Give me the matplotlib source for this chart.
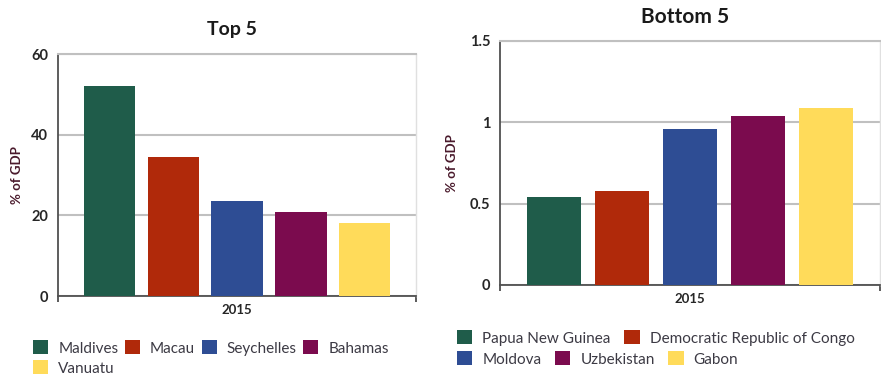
import matplotlib
matplotlib.use("Agg")
import matplotlib.pyplot as plt
from matplotlib.patches import Patch

plt.rcParams['font.family'] = ['Lato', 'DejaVu Sans']

# data
year_label = "2015"
top_names = ["Maldives", "Macau", "Seychelles", "Bahamas", "Vanuatu"]
top_values = [52.1, 34.5, 23.6, 20.8, 18.0]
top_ticks = [0, 20, 40, 60]
top_ticklabels = ["0", "20", "40", "60"]

bottom_names = ["Papua New Guinea", "Democratic Republic of Congo", "Moldova", "Uzbekistan", "Gabon"]
bottom_values = [0.54, 0.58, 0.96, 1.04, 1.09]
bottom_ticks = [0, 0.5, 1.0, 1.5]
bottom_ticklabels = ["0", "0.5", "1", "1.5"]

colors = ["#1f5c4a", "#b0290a", "#2e4d94", "#7b0b4e", "#ffdb5a"]
grid_col = "#c0c0c0"
label_col = "#4a1a2c"

fig = plt.figure(figsize=(8.81, 3.76), dpi=100)


def draw_panel(rect, title, names, values, ticks, ticklabels, title_y, title_size):
    ax = fig.add_axes(rect)
    offsets = [i - (len(values) - 1) / 2 for i in range(len(values))]
    ax.bar(offsets, values, width=0.8, color=colors, zorder=3)
    ax.set_xlim(-2.8, 2.8)
    ax.set_ylim(ticks[0], ticks[-1])
    ax.set_yticks(ticks)
    ax.set_yticklabels(ticklabels, fontweight='bold', fontsize=10.5, color='#262626')
    ax.tick_params(axis='y', length=0, pad=7)
    ax.set_xticks([0])
    ax.set_xticklabels([year_label], fontweight='bold', fontsize=9.5, color='#262626')
    ax.tick_params(axis='x', which='major', length=0, pad=6)
    ax.set_xticks([-2.8, 2.8], minor=True)
    ax.tick_params(axis='x', which='minor', length=4, width=1.2, color='#404040')
    ax.grid(axis='y', color=grid_col, linewidth=1.5, zorder=0)
    ax.spines['left'].set_color('#505050')
    ax.spines['left'].set_linewidth(1.3)
    ax.spines['bottom'].set_color('#505050')
    ax.spines['bottom'].set_linewidth(1.3)
    ax.spines['top'].set_color(grid_col)
    ax.spines['top'].set_linewidth(1.5)
    ax.spines['right'].set_color('#e0e0e0')
    ax.spines['right'].set_linewidth(1.0)
    ax.set_ylabel("% of GDP", fontweight='bold', fontsize=9.5, color=label_col)
    fig.text(rect[0] + rect[2] / 2 - 0.006, title_y, title, ha='center', va='center',
             fontsize=title_size, fontweight='bold', color='#1a1a1a')
    return ax


ax1 = draw_panel([58 / 881, 1 - 296 / 376, 358 / 881, 242 / 376], "Top 5",
                 top_names, top_values, top_ticks, top_ticklabels, 1 - 30 / 376, 14)
ax1.yaxis.set_label_coords(-0.098, 0.5)
ax2 = draw_panel([500 / 881, 1 - 285 / 376, 380 / 881, 244 / 376], "Bottom 5",
                 bottom_names, bottom_values, bottom_ticks, bottom_ticklabels, 1 - 17 / 376, 15)
ax2.yaxis.set_label_coords(-0.11, 0.5)


def add_legend_row(names, cols, x, y, spacing):
    handles = [Patch(facecolor=c, edgecolor='none') for c in cols]
    leg = fig.legend(handles, names, loc='center left', bbox_to_anchor=(x, y),
                     ncol=len(names), frameon=False, fontsize=11,
                     handlelength=1.0, handleheight=1.0, handletextpad=0.65,
                     columnspacing=spacing, borderaxespad=0, borderpad=0)
    for t in leg.get_texts():
        t.set_color('#3c3a44')
    return leg


add_legend_row(top_names[:4], colors[:4], 33 / 881, 1 - 348 / 376, 0.42)
add_legend_row(top_names[4:], colors[4:], 33 / 881, 1 - 368 / 376, 0.42)
add_legend_row(bottom_names[:2], colors[:2], 457 / 881, 1 - 338 / 376, 0.9)
add_legend_row(bottom_names[2:], colors[2:], 457 / 881, 1 - 359 / 376, 0.9)

fig.savefig("out.png", dpi=100)
